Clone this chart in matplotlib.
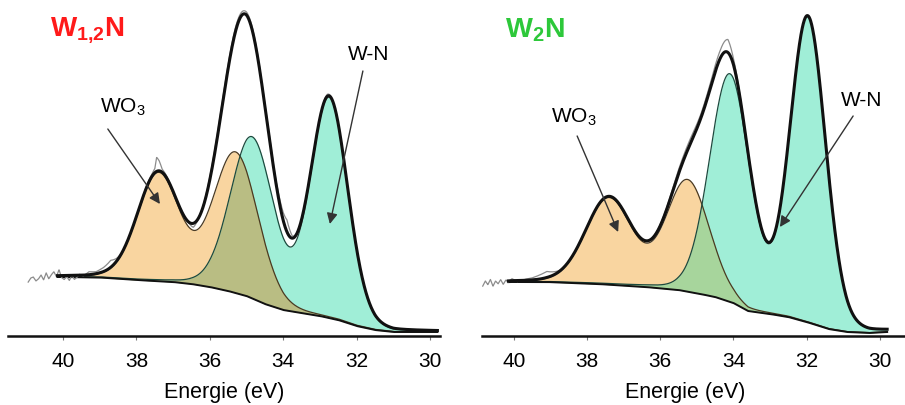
import numpy as np
import matplotlib
matplotlib.use('Agg')
import matplotlib.pyplot as plt

plt.rcParams['font.family'] = ['Liberation Sans', 'DejaVu Sans']
plt.rcParams['mathtext.fontset'] = 'custom'
plt.rcParams['mathtext.rm'] = 'Liberation Sans'
plt.rcParams['mathtext.bf'] = 'Liberation Sans:bold'

energy_ticks = [40, 38, 36, 34, 32, 30]

# ---- W1,2N panel (intensity in arbitrary units) ----
w12n_bg_E = [40.95, 40.0, 39.0, 38.0, 37.0, 36.5, 36.0, 35.5, 35.0, 34.5, 34.0, 33.5, 33.0, 32.5, 32.0, 31.5, 31.0, 30.5, 29.8]
w12n_bg_I = [59, 59, 58.5, 56, 54, 52, 49, 45, 40, 32, 26, 23, 20, 16, 10, 6, 4, 4, 4]
w12n_wo3_pos = [37.4, 35.3]
w12n_wo3_amp = [107, 140]
w12n_wo3_fwhm = [1.35, 1.45]
w12n_wn_pos = [34.85, 32.75]
w12n_wn_amp = [160, 219]
w12n_wn_fwhm = [1.4, 1.2]
w12n_raw_E = [40.95, 40.88, 40.81, 40.74, 40.67, 40.6, 40.53, 40.46, 40.39, 40.32, 40.25, 40.18,
              40.11, 40.04, 39.97, 39.9, 39.83, 39.76, 39.69, 39.62, 39.55, 39.45, 39.3, 39.1,
              38.9, 38.7, 38.55, 38.4, 38.0, 37.6, 37.5, 37.45, 37.38, 37.3, 37.0, 36.6, 36.45,
              36.3, 36.0, 35.6, 35.3, 35.05, 34.8, 34.5, 34.2, 34.0, 33.9, 33.75, 33.5, 33.0,
              32.8, 32.6, 32.0, 31.0, 29.8]
w12n_raw_dev = [-6, -2, -1, -5, -3, 1, -4, 3, -3, 1, 4, -1,
                6, -2, -4, -1, -5, 0, -4, -2, 1, -1, 3, 2,
                4, 7, 3, 0, 0, 2, 4, 14, 10, 3, 0, 0, -4,
                0, 3, 4, 4, 3, 3, 2, 3, 8, 12, 2, 0, 0,
                2, 0, 0, 0, 0]

# ---- W2N panel ----
w2n_bg_E = [40.85, 40.1, 39.1, 37.7, 36.4, 35.5, 34.9, 34.5, 34.0, 33.6, 33.0, 32.5, 32.0, 31.4, 30.9, 30.3, 29.8]
w2n_bg_I = [52, 54, 54, 52, 49, 46, 42, 39, 33, 25, 22, 19, 14, 7, 4, 3, 4]
w2n_wo3_pos = [37.4, 35.25]
w2n_wo3_amp = [86, 111]
w2n_wo3_fwhm = [1.5, 1.4]
w2n_wn_pos = [34.1, 31.97]
w2n_wn_amp = [226, 304]
w2n_wn_fwhm = [1.3, 1.15]
w2n_raw_E = [40.85, 40.78, 40.71, 40.64, 40.57, 40.5, 40.43, 40.36, 40.29, 40.22, 40.15, 40.05,
             39.9, 39.7, 39.5, 39.3, 39.1, 38.9, 38.7, 38.0, 37.4, 36.4, 35.8, 35.5, 35.2,
             34.9, 34.6, 34.35, 34.15, 34.0, 33.8, 33.5, 33.0, 32.0, 31.5, 31.0, 29.8]
w2n_raw_dev = [-3, 2, -2, 3, -4, 1, -2, 2, -3, 1, -1, 2,
               -1, 1, 2, 4, 6, 3, 0, 0, 0, 0, 2, 4, 5,
               4, 5, 8, 13, 6, 2, 0, 0, 0, 2, 0, 0]

ETA = 0.1  # Gauss/Lorentz mixing of the fitted peaks


def pvoigt(E, pos, amp, fwhm):
    total = np.zeros_like(E)
    for c, a, w in zip(pos, amp, fwhm):
        d = (E - c) ** 2
        g = np.exp(-4 * np.log(2) * d / w ** 2)
        l = 1 / (1 + 4 * d / w ** 2)
        total += a * ((1 - ETA) * g + ETA * l)
    return total


def draw_panel(ax, bg_E, bg_I, wo3, wn, raw_E, raw_dev, overlap_color):
    E = np.linspace(40.15, 29.8, 1500)
    bg = np.interp(E, bg_E[::-1], bg_I[::-1])
    wo3_peaks = pvoigt(E, *wo3)
    wn_peaks = pvoigt(E, *wn)
    wo3_top = bg + wo3_peaks
    wn_top = bg + wn_peaks
    env = bg + wo3_peaks + wn_peaks

    ax.fill_between(E, bg, wo3_top, color='#f9d5a0', lw=0)
    ax.fill_between(E, bg, wn_top, color='#a0eed7', lw=0)
    ax.fill_between(E, bg, np.minimum(wo3_top, wn_top), color=overlap_color, lw=0)
    ax.plot(E, wo3_top, color='#4a3a22', lw=0.9)
    ax.plot(E, wn_top, color='#1c4a3e', lw=0.9)
    ax.plot(E, bg, color='#111111', lw=1.4)

    # measured spectrum
    Er = np.linspace(raw_E[0], raw_E[-1], 2000)
    bg_r = np.interp(Er, bg_E[::-1], bg_I[::-1])
    raw = bg_r + pvoigt(Er, *wo3) + pvoigt(Er, *wn) + np.interp(Er, raw_E[::-1], raw_dev[::-1])
    ax.plot(Er, raw, color='#8c8c8c', lw=0.9)
    ax.plot(E, env, color='#111111', lw=2.2)


fig = plt.figure(figsize=(9.05, 4.06), dpi=100)
W, H = 905.0, 406.0
ax1 = fig.add_axes([8 / W, (H - 337) / H, 432 / W, 332 / H])
ax2 = fig.add_axes([482 / W, (H - 337) / H, 423 / W, 332 / H])

draw_panel(ax1, w12n_bg_E, w12n_bg_I,
           (w12n_wo3_pos, w12n_wo3_amp, w12n_wo3_fwhm),
           (w12n_wn_pos, w12n_wn_amp, w12n_wn_fwhm),
           w12n_raw_E, w12n_raw_dev, '#b9bd83')
draw_panel(ax2, w2n_bg_E, w2n_bg_I,
           (w2n_wo3_pos, w2n_wo3_amp, w2n_wo3_fwhm),
           (w2n_wn_pos, w2n_wn_amp, w2n_wn_fwhm),
           w2n_raw_E, w2n_raw_dev, '#a7d59c')

ax1.set_xlim(41.5, 41.5 - 432 / 36.7)
ax2.set_xlim(40.87, 40.87 - 423 / 36.6)

for ax in (ax1, ax2):
    ax.set_ylim(0, 332)
    for s in ('top', 'left', 'right'):
        ax.spines[s].set_visible(False)
    ax.spines['bottom'].set_linewidth(1.8)
    ax.spines['bottom'].set_color('#111111')
    ax.set_yticks([])
    ax.set_xticks(energy_ticks)
    ax.tick_params(axis='x', direction='out', length=3, width=0.8, color='#777777',
                   labelsize=15, pad=8)
    ax.set_xlabel('Energie (eV)', fontsize=15.5, labelpad=8)
    ax.patch.set_alpha(0)

ax2.xaxis.label.set_x(0.48)

arrow = dict(arrowstyle='-|>', color='#333333', lw=1.0, mutation_scale=16, shrinkA=0, shrinkB=0)

ax1.text(40.36, 307, r'$\mathbf{W_{1{,}2}N}$', color='#ff1a1a', fontsize=20, va='center', ha='left')
ax1.text(38.37, 230, r'WO$_3$', fontsize=15, ha='center', va='center')
ax1.text(31.66, 282, 'W-N', fontsize=15, ha='center', va='center')
ax1.annotate('', xy=(37.36, 132), xytext=(38.78, 207), arrowprops=arrow)
ax1.annotate('', xy=(32.73, 112), xytext=(31.83, 265), arrowprops=arrow)

ax2.text(40.24, 307, r'$\mathbf{W_{2}N}$', color='#2dc83a', fontsize=20.5, va='center', ha='left')
ax2.text(38.36, 220, r'WO$_3$', fontsize=15, ha='center', va='center')
ax2.text(30.51, 237, 'W-N', fontsize=15, ha='center', va='center')
ax2.annotate('', xy=(37.15, 104), xytext=(38.27, 200), arrowprops=arrow)
ax2.annotate('', xy=(32.73, 109), xytext=(30.73, 220), arrowprops=arrow)

fig.savefig('out.png', dpi=100)
